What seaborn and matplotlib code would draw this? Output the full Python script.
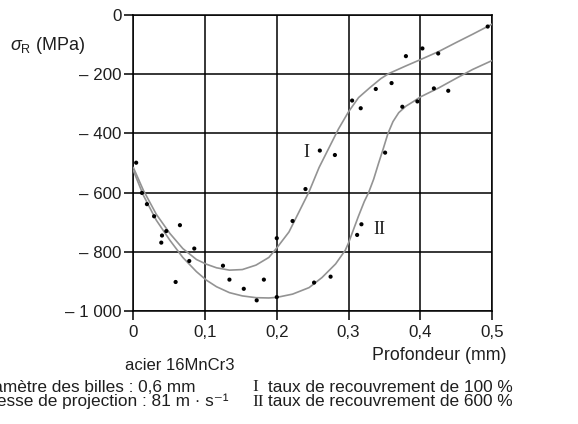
import matplotlib
matplotlib.use("Agg")
import matplotlib.pyplot as plt
import seaborn as sns
import pandas as pd

# Measured residual stress (depth in mm, stress in MPa)
depth_pts = [0.004, 0.012, 0.019, 0.029, 0.040, 0.046, 0.039, 0.065, 0.059, 0.085,
             0.078, 0.125, 0.134, 0.154, 0.172, 0.182, 0.200, 0.200, 0.222, 0.240,
             0.260, 0.281, 0.252, 0.275, 0.305, 0.317, 0.312, 0.318, 0.338, 0.351,
             0.360, 0.375, 0.380, 0.396, 0.403, 0.419, 0.425, 0.439, 0.494]
stress_pts = [-499, -601, -639, -680, -745, -730, -769, -710, -902, -789,
              -831, -847, -894, -925, -964, -894, -754, -953, -696, -588,
              -458, -473, -904, -884, -289, -315, -743, -707, -250, -465,
              -230, -310, -139, -292, -113, -248, -130, -256, -39]

# Fitted curve I (100 % coverage)
curve1_x = [0.0, 0.014, 0.032, 0.051, 0.069, 0.088, 0.102, 0.116, 0.134, 0.152,
            0.171, 0.189, 0.200, 0.217, 0.231, 0.245, 0.259, 0.2725, 0.286, 0.300,
            0.314, 0.330, 0.345, 0.356, 0.379, 0.400, 0.426, 0.450, 0.473, 0.500]
curve1_y = [-515, -592, -673, -738, -789, -826, -842, -854, -862, -860,
            -845, -819, -787, -733, -665, -597, -515, -450, -385, -327,
            -279, -245, -215, -198, -173, -151, -123, -93, -65, -31]

# Fitted curve II (600 % coverage)
curve2_x = [0.0, 0.014, 0.032, 0.051, 0.069, 0.088, 0.102, 0.116, 0.134, 0.152,
            0.171, 0.189, 0.200, 0.222, 0.245, 0.263, 0.282, 0.2954, 0.300, 0.3046,
            0.3138, 0.322, 0.328, 0.335, 0.342, 0.348, 0.355, 0.362, 0.370, 0.380,
            0.390, 0.400, 0.426, 0.450, 0.473, 0.500]
curve2_y = [-525, -609, -693, -761, -819, -867, -896, -918, -938, -949,
            -955, -956, -954, -943, -921, -887, -841, -795, -770, -740,
            -680, -630, -600, -555, -500, -455, -400, -360, -330, -308,
            -293, -277, -246, -214, -184, -154]

x_ticks = [0, 0.1, 0.2, 0.3, 0.4, 0.5]
x_tick_labels = ["0", "0,1", "0,2", "0,3", "0,4", "0,5"]
y_ticks = [0, -200, -400, -600, -800, -1000]
y_tick_labels = ["0", "\u2013 200", "\u2013 400", "\u2013 600", "\u2013 800", "\u2013 1 000"]

sns.set_theme(style="white")
plt.rcParams["font.family"] = ["Liberation Sans", "DejaVu Sans"]
plt.rcParams["mathtext.fontset"] = "custom"
plt.rcParams["mathtext.rm"] = "Liberation Sans"
plt.rcParams["mathtext.it"] = "Liberation Sans:italic"

W, H = 578, 424
fig = plt.figure(figsize=(W / 100, H / 100), dpi=100)
fig.patch.set_facecolor("white")
ax = fig.add_axes([133.3 / W, 1 - 311 / H, (492 - 133.3) / W, (311 - 15) / H])

txt = "#1e1e1e"
curve_col = "#939393"
fs = 12.4

pts = pd.DataFrame({"depth": depth_pts, "stress": stress_pts})
c1 = pd.DataFrame({"depth": curve1_x, "stress": curve1_y})
c2 = pd.DataFrame({"depth": curve2_x, "stress": curve2_y})

sns.lineplot(data=c1, x="depth", y="stress", ax=ax, color=curve_col, lw=1.2,
             sort=False, estimator=None, zorder=3)
sns.lineplot(data=c2, x="depth", y="stress", ax=ax, color=curve_col, lw=1.2,
             sort=False, estimator=None, zorder=3)
sns.scatterplot(data=pts, x="depth", y="stress", ax=ax, color="black", s=9,
                edgecolor="none", zorder=4)

ax.set_xlim(0, 0.5)
ax.set_ylim(-1000, 0)
ax.set_xticks(x_ticks)
ax.set_xticklabels(x_tick_labels)
ax.set_yticks(y_ticks)
ax.set_yticklabels(y_tick_labels)
ax.set_xlabel("")
ax.set_ylabel("")

ax.grid(True, color="black", lw=1.1)
ax.set_axisbelow(True)
for sp in ax.spines.values():
    sp.set_color("black")
    sp.set_linewidth(1.1)
    sp.set_visible(True)

ax.tick_params(axis="x", direction="out", length=6.5, width=1.1, color="black",
               pad=3.5, labelsize=12.2, labelcolor=txt, bottom=True)
ax.tick_params(axis="y", direction="out", length=6.5, width=1.1, color="black",
               pad=2, labelsize=12.2, labelcolor=txt, left=True)

# Curve labels in serif roman numerals
ax.text(0.2415, -466, "I", family="Liberation Serif", fontsize=13,
        color=txt, ha="center", va="center")
ax.text(0.3436, -723, "II", family="Liberation Serif", fontsize=13,
        color=txt, ha="center", va="center")


def ftext(px, py, s, size=fs, **kw):
    fig.text(px / W, 1 - py / H, s, color=txt, fontsize=size, **kw)


ftext(10, 46, r"$\sigma_{\mathrm{R}}$ (MPa)", size=13, ha="left", va="center")
ftext(507, 355, "Profondeur (mm)", size=12.8, ha="right", va="center")
ftext(180, 366, "acier 16MnCr3", size=12, ha="center", va="center")
ftext(-23, 394.5, "Diamètre des billes : 0,6 mm\nVitesse de projection : 81 m \u00b7 s\u207b\u00b9",
      ha="left", va="center", linespacing=0.9)
ftext(252, 394.5, "I\nII", ha="left", va="center", linespacing=0.9,
      family="Liberation Serif")
ftext(268, 394.5, "taux de recouvrement de 100 %\ntaux de recouvrement de 600 %",
      ha="left", va="center", linespacing=0.9)

fig.savefig("out.png", dpi=100, facecolor="white")
